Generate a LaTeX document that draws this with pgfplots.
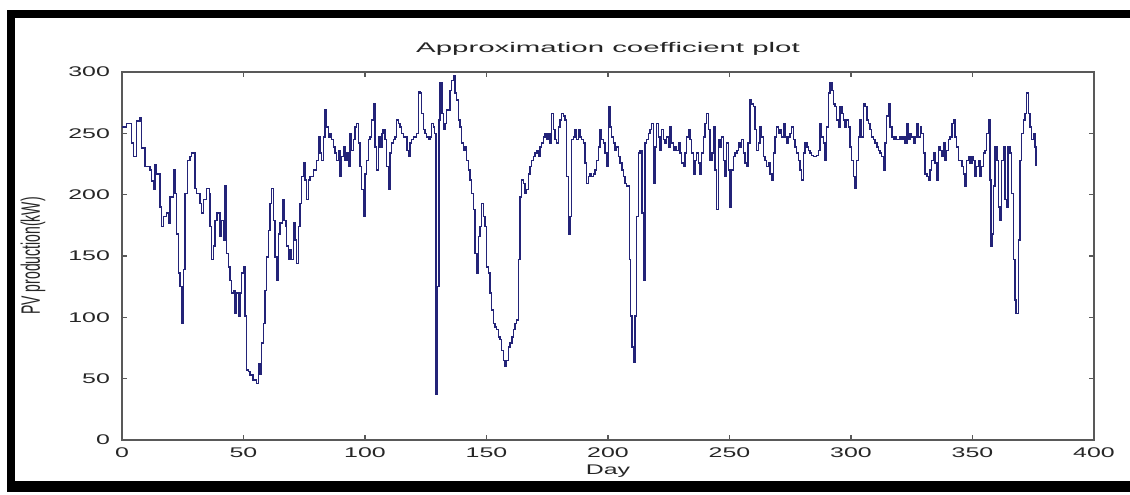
\documentclass[border=0pt]{standalone}
\usepackage{fontspec}
\usepackage{graphicx}
\usepackage{pgfplots}
\pgfplotsset{compat=1.18}
\setmainfont{Liberation Sans}
\newfontfamily\matfont{Liberation Sans}[FakeStretch=1.78]
\newfontfamily\titlefont{Liberation Sans}[FakeStretch=2.1]
\definecolor{linecol}{RGB}{35,35,120}
\begin{document}
\begin{tikzpicture}
\useasboundingbox (-91.5pt,-40.5pt) rectangle (756pt,330pt);
\fill[black] (-86.25pt,316.5pt) rectangle (756pt,322.5pt);
\fill[black] (-86.25pt,-39pt) rectangle (-80.25pt,322.5pt);
\fill[black] (-86.25pt,-39pt) rectangle (756pt,-30.75pt);
\begin{axis}[
  at={(0pt,0pt)}, anchor=origin,
  scale only axis, width=729pt, height=276pt,
  xmin=0, xmax=400, ymin=0, ymax=300,
  xtick={0,50,...,400}, ytick={0,50,...,300},
  tick align=inside, major tick length=3.5pt,
  axis line style={black!65, line width=0.9pt},
  every tick/.style={black!65, line width=0.8pt},
  /pgf/number format/assume math mode=true,
  ticklabel style={font=\matfont\fontsize{10.5}{12}\selectfont, text=black!85},
  xticklabel style={yshift=-2pt},
  yticklabel style={xshift=-5.5pt},
  title={\titlefont\fontsize{10.5}{12}\selectfont Approximation coefficient plot},
  title style={at={(axis description cs:0.5,1)}, anchor=base, yshift=9pt, text=black!85},
  xlabel={\matfont\fontsize{10.5}{12}\selectfont Day},
  xlabel style={at={(axis description cs:0.5,0)}, anchor=base, yshift=-26pt, text=black!85},
  ylabel={\scalebox{1}[1.9]{\fontsize{10.5}{12}\selectfont PV production(kW)}},
  ylabel style={at={(axis description cs:-0.0916,0.5)}, anchor=center, text=black!85},
]
\addplot[linecol, line width=1.1pt, const plot] coordinates {
(0,255)(1.9,258)(4.0,242)(4.7,231)(6.0,260)(7.4,263)(8.1,238)(9.5,223)(11.5,220)(12.2,211)(12.9,204)(13.6,224)(14.3,217)(15.6,190)(16.3,174)(17.0,182)(18.4,185)(19.1,177)(19.8,198)(21.1,220)(21.8,201)(22.5,168)(23.2,136)(23.9,125)(24.6,95)(25.2,139)(25.9,201)(26.9,228)(28.0,231)(28.7,234)(30.0,205)(30.7,201)(32.1,193)(32.8,185)(33.5,196)(34.8,205)(35.9,201)(36.2,174)(36.9,147)(37.6,158)(38.3,179)(39.0,185)(40.3,166)(41.0,179)(41.7,163)(42.4,207)(43.1,152)(43.8,141)(44.4,130)(45.1,120)(45.8,122)(46.5,103)(47.2,120)(47.9,101)(48.6,120)(49.2,136)(49.9,141)(50.6,101)(51.3,57)(52.0,56)(52.7,53)(54.0,49)(55.4,46)(56.1,62)(56.8,54)(57.5,79)(58.2,95)(58.8,122)(59.5,149)(60.2,171)(60.9,193)(61.6,205)(62.3,179)(63.0,149)(63.7,130)(64.3,168)(65.0,177)(66.1,196)(66.7,179)(67.5,174)(67.8,158)(68.5,147)(69.1,155)(69.8,147)(70.5,177)(71.2,163)(71.9,144)(72.6,174)(73.3,193)(73.9,215)(74.6,226)(75.3,212)(76.0,196)(76.7,212)(77.4,215)(78.7,220)(80.1,228)(80.8,247)(81.5,234)(82.2,228)(82.9,247)(83.5,269)(84.2,255)(84.9,247)(85.6,250)(86.3,245)(87.0,239)(87.7,234)(88.3,228)(89.0,236)(89.7,215)(90.4,231)(91.1,239)(91.8,228)(92.5,234)(93.1,223)(93.8,250)(94.5,236)(95.2,245)(95.9,255)(96.6,258)(97.3,242)(98.0,223)(98.6,204)(99.3,182)(100.0,217)(100.7,228)(101.4,245)(102.1,247)(102.7,261)(103.4,274)(104.1,239)(104.8,220)(105.5,247)(106.2,239)(106.9,250)(107.5,253)(108.2,245)(108.9,223)(109.6,204)(110.3,234)(111.0,242)(111.7,245)(112.4,247)(113.0,261)(113.7,258)(114.4,255)(115.1,250)(115.8,247)(117.2,236)(117.8,231)(118.5,242)(119.2,245)(119.9,247)(121.3,250)(122.0,284)(122.6,283)(123.3,266)(124.0,253)(124.7,250)(125.4,247)(126.1,245)(126.7,247)(127.4,258)(128.1,255)(128.6,250)(129.2,37)(129.8,125)(130.4,261)(130.9,291)(131.6,266)(132.2,253)(132.9,258)(133.6,269)(134.3,269)(135.0,285)(135.7,293)(136.4,297)(137.0,283)(137.7,277)(138.4,261)(139.1,255)(139.8,242)(140.5,236)(141.2,239)(141.8,228)(142.5,220)(143.2,212)(143.9,201)(144.6,188)(145.3,152)(146.0,136)(146.6,166)(147.3,174)(148.0,193)(148.7,182)(149.4,174)(150.1,141)(150.8,136)(151.4,120)(152.1,106)(152.8,95)(153.5,92)(154.2,90)(154.9,84)(155.6,82)(156.2,73)(156.9,65)(157.6,60)(158.3,65)(159.0,76)(159.7,79)(160.4,84)(161.0,90)(161.7,95)(162.4,98)(163.1,147)(163.8,198)(164.5,212)(165.2,209)(165.9,201)(166.5,204)(167.2,217)(167.9,223)(168.6,228)(169.3,231)(170.0,234)(170.7,236)(171.3,231)(172.0,239)(172.7,242)(173.4,247)(174.1,250)(174.8,245)(175.5,250)(176.1,242)(176.8,266)(177.5,253)(178.2,245)(178.9,242)(179.6,255)(180.3,261)(180.9,266)(181.6,264)(182.3,261)(183.0,215)(183.7,168)(184.4,182)(185.0,245)(185.7,247)(186.4,253)(187.1,245)(187.8,253)(188.5,247)(189.2,245)(189.9,242)(190.5,226)(191.2,209)(191.9,215)(192.6,217)(193.3,215)(194.0,217)(194.7,220)(195.3,228)(196.0,239)(196.7,253)(197.4,245)(198.1,242)(198.8,234)(199.5,223)(200.2,272)(200.9,255)(201.5,247)(202.2,242)(202.9,236)(203.6,239)(204.3,231)(205.0,226)(205.7,220)(206.3,215)(207.0,209)(207.7,207)(208.4,207)(208.8,147)(209.3,101)(209.9,76)(210.4,63)(211.1,101)(211.8,182)(212.5,234)(213.2,236)(213.9,185)(214.6,130)(215.2,242)(215.9,245)(216.6,250)(217.3,253)(218.0,258)(218.7,209)(219.3,239)(220.0,258)(220.7,247)(221.4,236)(222.1,253)(222.8,245)(223.5,242)(224.1,247)(224.8,239)(225.5,255)(226.2,242)(226.9,236)(227.6,239)(228.2,236)(228.9,242)(229.6,234)(230.3,226)(231.0,223)(231.7,234)(232.4,247)(233.1,253)(233.7,245)(234.4,234)(235.1,217)(235.8,228)(236.5,234)(237.2,226)(237.9,217)(238.5,234)(239.2,247)(239.9,258)(240.6,266)(241.3,253)(242.0,228)(242.7,234)(243.4,255)(244.0,220)(244.7,188)(245.4,245)(246.1,239)(246.8,247)(247.5,228)(248.2,215)(248.8,242)(249.5,220)(250.2,190)(250.9,220)(251.6,231)(252.3,234)(253.0,236)(253.6,242)(254.3,239)(255.0,245)(255.7,234)(256.4,226)(257.1,223)(257.7,242)(258.4,277)(259.1,274)(259.8,272)(260.5,253)(261.2,236)(261.9,242)(262.6,255)(263.2,247)(263.9,231)(264.6,228)(265.3,223)(266.0,226)(266.7,217)(267.4,212)(268.1,234)(268.7,247)(269.4,255)(270.1,250)(270.8,253)(271.5,247)(272.2,258)(272.9,247)(273.6,242)(274.2,247)(274.9,250)(275.6,255)(276.3,245)(276.9,239)(277.6,234)(278.3,228)(279.0,220)(279.7,212)(280.4,234)(281.1,242)(281.8,239)(282.4,236)(283.1,234)(283.8,232)(284.5,231)(285.2,231)(285.9,232)(286.6,236)(287.2,258)(287.9,247)(288.6,242)(289.3,228)(290.0,255)(290.7,283)(291.4,291)(292.1,285)(292.7,274)(293.4,272)(294.1,261)(294.8,255)(295.5,272)(296.2,266)(296.9,261)(297.5,255)(298.2,261)(298.9,255)(299.6,239)(300.3,228)(301.0,215)(301.7,205)(302.3,228)(303.0,247)(303.7,261)(304.4,247)(305.1,274)(305.8,272)(306.5,261)(307.1,258)(307.8,253)(308.5,247)(309.2,245)(309.9,242)(310.6,239)(311.3,236)(312.0,234)(312.6,231)(313.3,220)(314.0,242)(314.7,264)(315.4,274)(316.1,255)(316.8,247)(317.5,245)(318.1,247)(318.8,245)(319.5,245)(320.2,247)(320.9,245)(321.6,247)(322.3,242)(323.0,258)(323.6,245)(324.3,250)(325.0,247)(325.7,242)(326.4,247)(327.1,258)(327.8,247)(328.5,255)(329.1,250)(329.8,234)(330.5,217)(331.2,215)(331.9,212)(332.6,220)(333.2,228)(333.9,234)(334.6,226)(335.3,212)(336.0,239)(336.7,236)(337.4,231)(338.1,242)(338.7,228)(339.4,236)(340.1,245)(340.8,247)(341.5,258)(342.2,261)(342.8,247)(343.5,239)(344.2,228)(344.9,228)(345.6,223)(346.2,217)(346.9,207)(347.6,228)(348.3,231)(349.0,226)(349.7,231)(350.4,228)(351.0,215)(351.7,223)(352.4,228)(353.1,215)(353.8,223)(354.5,234)(355.2,236)(355.8,250)(356.5,261)(357.2,212)(357.6,158)(358.2,168)(358.6,207)(359.3,239)(360.0,228)(360.7,190)(361.3,179)(362.0,228)(362.7,239)(363.4,196)(364.1,190)(364.7,239)(365.4,234)(366.1,201)(366.8,147)(367.5,114)(367.9,103)(368.9,163)(369.6,228)(370.2,250)(370.9,261)(371.6,266)(372.3,283)(373.0,266)(373.6,255)(374.3,245)(375.0,250)(375.7,239)(376.1,223)
};
\end{axis}
\end{tikzpicture}
\end{document}
